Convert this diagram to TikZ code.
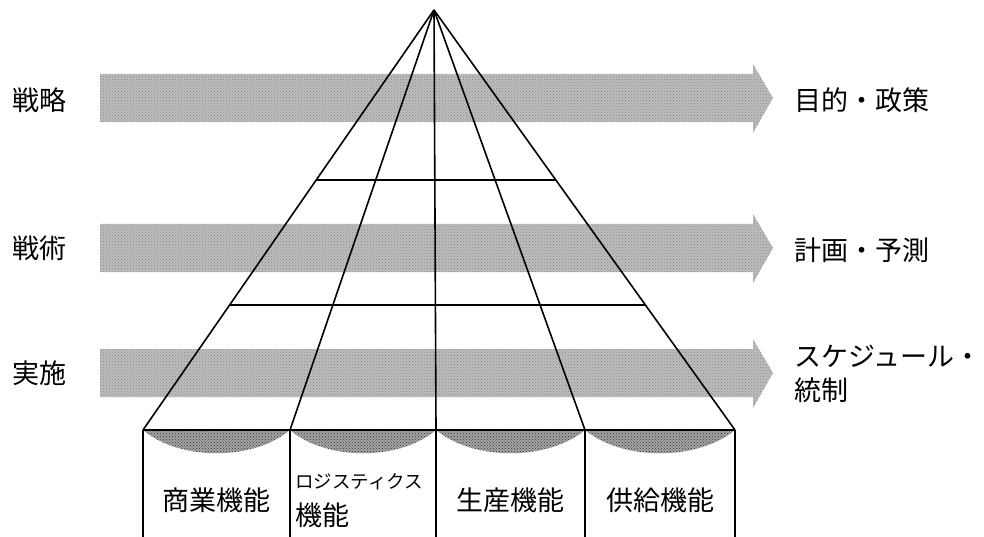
\documentclass[tikz,border=0pt]{standalone}
\usepackage{fontspec}
\setmainfont{Noto Sans CJK JP}
\usetikzlibrary{patterns,calc}
\tikzset{
  band/.style={fill=gray!52, draw=none},
  bandpat/.style={pattern=crosshatch dots, pattern color=gray!95},
  edge/.style={line width=1.6pt, black},
  lens/.style={fill=gray!72, draw=none},
  lensedge/.style={pattern=crosshatch dots, pattern color=black!80},
  lab/.style={font=\fontsize{27}{30}\selectfont, inner sep=0pt},
  smalllab/.style={font=\fontsize{18.5}{20}\selectfont, inner sep=0pt}
}
\begin{document}
\begin{tikzpicture}[x=1pt,y=-1pt]
\useasboundingbox (0,0) rectangle (984,537);
% arrows
\foreach \c in {98,248,373}{
  \path[band] (100,\c-24) -- (753,\c-24) -- (753,\c-34) -- (773,\c) -- (753,\c+35) -- (753,\c+24) -- (100,\c+24) -- cycle;
  \path[bandpat] (100,\c-24) -- (753,\c-24) -- (753,\c-34) -- (773,\c) -- (753,\c+35) -- (753,\c+24) -- (100,\c+24) -- cycle;
}
% coordinates
\coordinate (apex) at (434,10);
\coordinate (b0) at (143,430);
\coordinate (b1) at (290,430);
\coordinate (b2) at (436,430);
\coordinate (b3) at (585,430);
\coordinate (b4) at (735,430);
\coordinate (e0) at (143,537);
\coordinate (e1) at (290,537);
\coordinate (e2) at (436,537);
\coordinate (e3) at (585,537);
\coordinate (e4) at (735,537);
% lenses
\foreach \a/\b in {b0/b1,b1/b2,b2/b3,b3/b4}{
  \path[lens] (\a) .. controls ($(\a)!0.25!(\b)+(0,31)$) and ($(\a)!0.75!(\b)+(0,31)$) .. (\b) -- cycle;
  \path[lensedge] (\a) .. controls ($(\a)!0.25!(\b)+(0,31)$) and ($(\a)!0.75!(\b)+(0,31)$) .. (\b) -- cycle;
}
% pyramid
\draw[edge] (apex) -- (b0);
\draw[edge] (apex) -- (b1);
\draw[edge] (apex) -- (b2);
\draw[edge] (apex) -- (b3);
\draw[edge] (apex) -- (b4);
\draw[edge] (b0) -- (b4);
\draw[edge] ($(apex)!0.405!(b0)$) coordinate (h1l) -- ($(apex)!0.405!(b4)$) coordinate (h1r);
\draw[edge] ($(apex)!0.702!(b0)$) coordinate (h2l) -- ($(apex)!0.702!(b4)$) coordinate (h2r);
% boxes
\draw[edge] (b0) -- (e0);
\draw[edge] (b1) -- (e1);
\draw[edge] (b2) -- (e2);
\draw[edge] (b3) -- (e3);
\draw[edge] (b4) -- (e4);
% left labels
\node[lab, anchor=west] (l1) at (12,100) {戦略};
\node[lab, anchor=west] (l2) at (12,248) {戦術};
\node[lab, anchor=west] (l3) at (12,373) {実施};
% right labels
\node[lab, anchor=west] (r1) at (794,100) {目的・政策};
\node[lab, anchor=west] (r2) at (794,250) {計画・予測};
\node[lab, anchor=west] (r3) at (794,356) {スケジュール・};
\node[lab, anchor=west] (r4) at (794,390) {統制};
% box labels
\node[lab] (f1) at (216,500) {商業機能};
\node[smalllab, anchor=west] (f2a) at (295,482) {ロジスティクス};
\node[lab, anchor=west] (f2b) at (295,515) {機能};
\node[lab] (f3) at (510,500) {生産機能};
\node[lab] (f4) at (660,500) {供給機能};
\end{tikzpicture}
\end{document}
